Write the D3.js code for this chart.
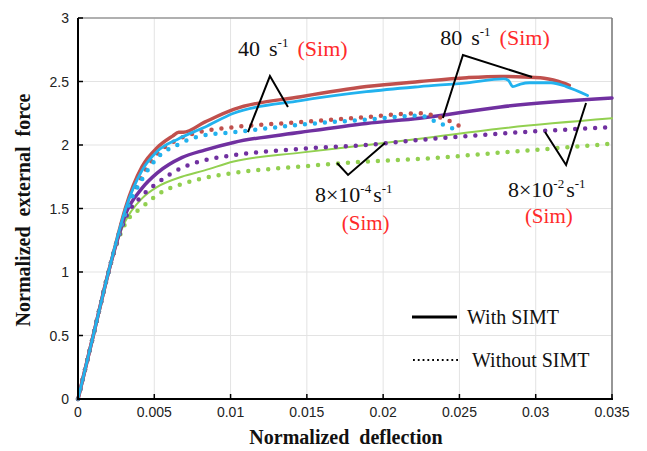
<!DOCTYPE html>
<html lang="en">
<head>
<meta charset="UTF-8">
<title>Normalized force vs deflection</title>
<script src="https://d3js.org/d3.v7.min.js"></script>
<style>
  body { margin: 0; background: #fff; }
  .grid line { stroke: #e3e3e3; stroke-width: 1; }
  .tick-label { font-family: "Liberation Sans", Arial, sans-serif; font-size: 14px; fill: #222; }
  .title { font-family: "Liberation Serif", "DejaVu Serif", serif; font-weight: bold; font-size: 20px; fill: #111; }
  .note { font-family: "Liberation Serif", "DejaVu Serif", serif; font-size: 22px; fill: #111; }
  .legend { font-family: "Liberation Serif", "DejaVu Serif", serif; font-size: 20px; fill: #111; }
</style>
</head>
<body>
<div id="chart"></div>
<script>
// ---- data (normalized deflection, normalized external force) ----
const xTicks = [0, 0.005, 0.01, 0.015, 0.02, 0.025, 0.03, 0.035];
const yTicks = [0, 0.5, 1, 1.5, 2, 2.5, 3];

// 80 s^-1, with SIMT
const red80X = [0, 0.001, 0.002, 0.0026, 0.0031, 0.0042, 0.0052, 0.0062, 0.0066, 0.0069, 0.0083, 0.0102, 0.0146, 0.0189, 0.0224, 0.0255, 0.0277, 0.0303, 0.0315, 0.0322];
const red80Y = [0, 0.5, 1.0, 1.28, 1.5, 1.83, 1.98, 2.07, 2.1, 2.1, 2.18, 2.28, 2.38, 2.46, 2.5, 2.53, 2.54, 2.53, 2.5, 2.47];
// 40 s^-1, with SIMT
const blue40X = [0, 0.001, 0.002, 0.0026, 0.0031, 0.0042, 0.0052, 0.0066, 0.0083, 0.0102, 0.0146, 0.0189, 0.0224, 0.0255, 0.0279, 0.0282, 0.0285, 0.029, 0.0296, 0.031, 0.032, 0.0334];
const blue40Y = [0, 0.5, 1.0, 1.28, 1.49, 1.8, 1.95, 2.05, 2.14, 2.25, 2.35, 2.42, 2.46, 2.49, 2.52, 2.51, 2.46, 2.48, 2.49, 2.49, 2.46, 2.39];
// 80 s^-1, without SIMT
const red80noX = [0, 0.001, 0.002, 0.0026, 0.0031, 0.0042, 0.0052, 0.0065, 0.0079, 0.0102, 0.0146, 0.0189, 0.0224, 0.0239, 0.0247, 0.0254];
const red80noY = [0, 0.5, 1.0, 1.27, 1.47, 1.76, 1.93, 2.04, 2.1, 2.14, 2.18, 2.22, 2.25, 2.21, 2.17, 2.12];
// 40 s^-1, without SIMT
const blue40noX = [0, 0.001, 0.002, 0.0026, 0.0031, 0.0042, 0.0052, 0.0065, 0.008, 0.0102, 0.0146, 0.0189, 0.0224, 0.0237, 0.0244, 0.025];
const blue40noY = [0, 0.5, 1.0, 1.27, 1.46, 1.73, 1.9, 2.0, 2.07, 2.1, 2.16, 2.2, 2.23, 2.17, 2.14, 2.1];
// 8x10^-2 s^-1
const purpleX = [0, 0.001, 0.002, 0.0026, 0.0031, 0.0042, 0.0052, 0.0068, 0.0083, 0.0102, 0.0146, 0.0189, 0.0224, 0.0277, 0.035];
const purpleY = [0, 0.5, 1.0, 1.26, 1.45, 1.66, 1.78, 1.9, 1.96, 2.02, 2.1, 2.17, 2.21, 2.3, 2.37];
const purpleNoY = [0, 0.5, 1.0, 1.25, 1.42, 1.6, 1.7, 1.82, 1.88, 1.92, 1.97, 2.0, 2.04, 2.09, 2.14];
// 8x10^-4 s^-1
const greenX = [0, 0.001, 0.002, 0.0026, 0.0031, 0.0035, 0.0042, 0.0052, 0.0068, 0.0083, 0.0102, 0.0146, 0.0189, 0.0224, 0.0277, 0.035];
const greenY = [0, 0.5, 1.0, 1.25, 1.4, 1.48, 1.58, 1.67, 1.75, 1.8, 1.87, 1.94, 2.0, 2.05, 2.13, 2.21];
const greenNoX = [0, 0.001, 0.002, 0.0026, 0.0031, 0.0042, 0.0055, 0.007, 0.0079, 0.0102, 0.0146, 0.0189, 0.0224, 0.0277, 0.035];
const greenNoY = [0, 0.5, 1.0, 1.24, 1.38, 1.51, 1.63, 1.7, 1.73, 1.78, 1.83, 1.87, 1.89, 1.94, 2.01];

// label pointers [apex, end1, end2] in data units
const ptr40 = [[0.01258, 2.543], [0.01376, 2.299], [0.01114, 2.102]];
const ptr80 = [[0.02523, 2.709], [0.02976, 2.535], [0.02392, 2.213]];
const ptr4 = [[0.0177, 1.764], [0.01698, 1.858], [0.02012, 2.016]];
const ptr2 = [[0.03199, 1.843], [0.03061, 2.102], [0.0333, 2.331]];

const W = 647, H = 451;
const serif = '"Liberation Serif", "Times New Roman", "DejaVu Serif", serif';
const x = d3.scaleLinear().domain([0, 0.035]).range([78, 612]);
const y = d3.scaleLinear().domain([0, 3]).range([399, 18]);

const svg = d3.select("#chart").append("svg")
    .attr("width", W).attr("height", H);

// grid
const grid = svg.append("g").attr("class", "grid");
grid.selectAll(".vx").data(xTicks.slice(1)).enter().append("line")
    .attr("x1", d => x(d)).attr("x2", d => x(d))
    .attr("y1", y(0)).attr("y2", y(3));
grid.selectAll(".hy").data(yTicks.slice(1)).enter().append("line")
    .attr("x1", x(0)).attr("x2", x(0.035))
    .attr("y1", d => y(d)).attr("y2", d => y(d));

// frame top / right
svg.append("line").attr("x1", x(0)).attr("x2", x(0.035)).attr("y1", y(3)).attr("y2", y(3))
    .attr("stroke", "#9a9a9a").attr("stroke-width", 1.5);
svg.append("line").attr("x1", x(0.035)).attr("x2", x(0.035)).attr("y1", y(3)).attr("y2", y(0))
    .attr("stroke", "#777").attr("stroke-width", 1.5);

// curves
const line = d3.line().x(d => x(d[0])).y(d => y(d[1])).curve(d3.curveMonotoneX);
const zip = (a, b) => a.map((v, i) => [v, b[i]]);

const series = [
    {xs: greenNoX, ys: greenNoY, color: "#92d050", dotted: true},
    {xs: greenX, ys: greenY, color: "#92d050", w: 2},
    {xs: purpleX, ys: purpleNoY, color: "#7030a0", dotted: true},
    {xs: purpleX, ys: purpleY, color: "#7030a0", w: 3.5},
    {xs: red80noX, ys: red80noY, color: "#c0504d", dotted: true},
    {xs: blue40noX, ys: blue40noY, color: "#22b2ee", dotted: true},
    {xs: red80X, ys: red80Y, color: "#c0504d", w: 3.5},
    {xs: blue40X, ys: blue40Y, color: "#22b2ee", w: 2.8}
];

svg.append("g").selectAll("path").data(series).enter().append("path")
    .attr("d", d => line(zip(d.xs, d.ys)))
    .attr("fill", "none")
    .attr("stroke", d => d.color)
    .attr("stroke-width", d => d.dotted ? 4.5 : d.w)
    .attr("stroke-linecap", "round")
    .attr("stroke-dasharray", d => d.dotted ? "0,10" : null);

// axes (black, inside ticks)
const axes = svg.append("g");
axes.append("line").attr("x1", x(0)).attr("x2", x(0)).attr("y1", y(0) + 1).attr("y2", y(3))
    .attr("stroke", "#000").attr("stroke-width", 2);
axes.append("line").attr("x1", x(0) - 1).attr("x2", x(0.035) + 1).attr("y1", y(0)).attr("y2", y(0))
    .attr("stroke", "#000").attr("stroke-width", 2);
axes.selectAll(".xt").data(xTicks).enter().append("line")
    .attr("x1", d => x(d)).attr("x2", d => x(d)).attr("y1", y(0)).attr("y2", y(0) - 5)
    .attr("stroke", "#000").attr("stroke-width", 1.5);
axes.selectAll(".yt").data(yTicks).enter().append("line")
    .attr("x1", x(0)).attr("x2", x(0) + 5).attr("y1", d => y(d)).attr("y2", d => y(d))
    .attr("stroke", "#000").attr("stroke-width", 1.5);

axes.selectAll(".xl").data(xTicks).enter().append("text")
    .attr("class", "tick-label")
    .attr("x", d => x(d)).attr("y", y(0) + 18)
    .attr("text-anchor", "middle")
    .text(d => d === 0 ? "0" : String(d));
axes.selectAll(".yl").data(yTicks).enter().append("text")
    .attr("class", "tick-label")
    .attr("x", x(0) - 9).attr("y", d => y(d) + 5)
    .attr("text-anchor", "end")
    .text(d => String(d));

// axis titles
svg.append("text").attr("class", "title").attr("font-family", serif)
    .attr("x", 346).attr("y", 444).attr("text-anchor", "middle")
    .attr("word-spacing", 5)
    .text("Normalized deflection");
svg.append("text").attr("class", "title").attr("font-family", serif)
    .attr("transform", "translate(30,210) rotate(-90)")
    .attr("text-anchor", "middle")
    .attr("word-spacing", 5)
    .text("Normalized external force");

// annotations
function note(px, py, parts, size) {
    const t = svg.append("text").attr("class", "note")
        .attr("font-family", serif)
        .attr("x", px).attr("y", py).style("font-size", size + "px");
    let shift = 0;
    parts.forEach(p => {
        const s = t.append("tspan").attr("font-family", serif).text(p.t);
        if (p.color) s.attr("fill", p.color);
        if (p.sup) {
            s.attr("dy", -9 - shift).style("font-size", Math.round(size * 0.6) + "px");
            shift = -9;
        } else {
            s.attr("dy", -shift);
            shift = 0;
        }
        if (p.gap) s.attr("dx", p.gap);
    });
}
const red = "#ff2a2a";
note(x(0.01049), y(2.70), [{t: "40"}, {t: "s", gap: 9}, {t: "-1", sup: true}, {t: "(Sim)", color: red, gap: 9}], 22);
note(x(0.02374), y(2.787), [{t: "80"}, {t: "s", gap: 9}, {t: "-1", sup: true}, {t: "(Sim)", color: red, gap: 9}], 22);
note(x(0.01553), y(1.551), [{t: "8×10"}, {t: "-4", sup: true}, {t: "s", gap: 2}, {t: "-1", sup: true}], 22);
note(x(0.01729), y(1.331), [{t: "(Sim)", color: red}], 21);
note(x(0.02818), y(1.59), [{t: "8×10"}, {t: "-2", sup: true}, {t: "s", gap: 2}, {t: "-1", sup: true}], 22);
note(x(0.02929), y(1.386), [{t: "(Sim)", color: red}], 21);

const ptrLine = d3.line().x(d => x(d[0])).y(d => y(d[1]));
svg.append("g").selectAll("path").data([ptr40, ptr80, ptr4, ptr2]).enter().append("path")
    .attr("d", d => ptrLine([d[1], d[0], d[2]]))
    .attr("fill", "none").attr("stroke", "#000").attr("stroke-width", 2);

// legend
const leg = svg.append("g");
leg.append("line").attr("x1", 412).attr("x2", 457).attr("y1", 317).attr("y2", 317)
    .attr("stroke", "#000").attr("stroke-width", 3);
leg.append("text").attr("class", "legend").attr("font-family", serif)
    .attr("x", 467).attr("y", 324).text("With SIMT");
leg.append("line").attr("x1", 413).attr("x2", 458).attr("y1", 360).attr("y2", 360)
    .attr("stroke", "#000").attr("stroke-width", 2).attr("stroke-dasharray", "1.8,3");
leg.append("text").attr("class", "legend").attr("font-family", serif)
    .attr("x", 472).attr("y", 367).text("Without SIMT");
</script>
</body>
</html>
